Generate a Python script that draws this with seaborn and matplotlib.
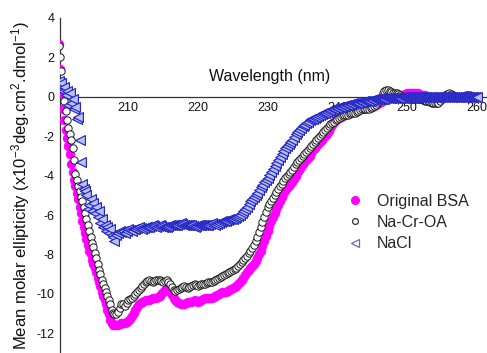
import numpy as np
import pandas as pd
import matplotlib
matplotlib.use("Agg")
import matplotlib.pyplot as plt
from matplotlib.lines import Line2D
import seaborn as sns

# ---- data ----
# wavelength sampling grid: 0.2 nm steps 200-208 nm, 0.25 nm steps 208.25-260 nm
wl_a = np.round(np.arange(200.0, 208.01, 0.2), 2)
wl_b = np.round(np.arange(208.25, 260.01, 0.25), 2)

bsa_a = [2.7, 1.4, 0.2, -0.6, -1.2, -1.7, -2.1, -2.5, -2.9, -3.4,
         -3.8, -4.2, -4.5, -4.9, -5.2, -5.6, -5.9, -6.3, -6.6, -6.9,
         -7.2, -7.5, -7.8, -8.0, -8.3, -8.5, -8.7, -8.9, -9.2, -9.4,
         -9.6, -9.9, -10.1, -10.3, -10.5, -10.8, -11.0, -11.3, -11.5, -11.6,
         -11.6]
bsa_b = [-11.6, -11.6, -11.55, -11.5, -11.5, -11.5, -11.45, -11.4,
         -11.25, -11.1, -10.95, -10.8, -10.65, -10.5, -10.45, -10.4,
         -10.35, -10.3, -10.3, -10.3, -10.25, -10.2, -10.2, -10.2,
         -10.15, -10.1, -10.0, -9.9, -9.8, -9.7, -9.75, -9.9,
         -10.05, -10.2, -10.3, -10.4, -10.45, -10.5, -10.5, -10.5,
         -10.45, -10.4, -10.4, -10.4, -10.35, -10.3, -10.35, -10.4,
         -10.35, -10.3, -10.25, -10.2, -10.2, -10.2, -10.2, -10.2,
         -10.15, -10.1, -10.05, -10.0, -9.95, -9.9, -9.9, -9.9,
         -9.85, -9.8, -9.75, -9.7, -9.65, -9.6, -9.5, -9.4,
         -9.3, -9.2, -9.05, -8.9, -8.8, -8.7, -8.6, -8.5,
         -8.35, -8.2, -8.0, -7.8, -7.55, -7.3, -7.05, -6.8,
         -6.55, -6.3, -6.1, -5.9, -5.7, -5.5, -5.3, -5.1,
         -4.95, -4.8, -4.65, -4.5, -4.4, -4.3, -4.15, -4.0,
         -3.85, -3.7, -3.55, -3.4, -3.3, -3.2, -3.1, -3.0,
         -2.85, -2.7, -2.6, -2.5, -2.4, -2.3, -2.2, -2.1,
         -2.0, -1.9, -1.75, -1.6, -1.45, -1.3, -1.2, -1.1,
         -1.05, -1.0, -0.95, -0.9, -0.85, -0.8, -0.75, -0.7,
         -0.7, -0.7, -0.65, -0.6, -0.6, -0.6, -0.55, -0.5,
         -0.5, -0.5, -0.5, -0.5, -0.45, -0.4, -0.35, -0.3,
         -0.25, -0.2, -0.15, -0.1, -0.05, 0.0, 0.0, 0.0,
         0.05, 0.1, 0.1, 0.1, 0.1, 0.1, 0.15, 0.2,
         0.2, 0.2, 0.2, 0.2, 0.2, 0.2, 0.15, 0.1,
         0.1, 0.1, 0.05, 0.0, 0.0, 0.0, 0.0, 0.0,
         0.0, 0.0, 0.0, 0.0, 0.0, 0.0, 0.05, 0.1,
         0.1, 0.1, 0.05, 0.0, 0.0, 0.0, 0.0, 0.0,
         0.0, 0.0, 0.0, 0.0, 0.0, 0.0, 0.0, 0.0]

ncoa_a = [2.6, 2.0, 1.3, 0.6, -0.2, -0.7, -1.2, -1.6, -1.9, -2.2,
          -2.6, -3.2, -3.9, -4.2, -4.5, -4.8, -5.1, -5.3, -5.6, -5.9,
          -6.2, -6.5, -6.8, -7.1, -7.4, -7.6, -7.9, -8.2, -8.5, -8.8,
          -9.0, -9.3, -9.5, -9.7, -9.9, -10.1, -10.3, -10.5, -10.8, -10.95,
          -11.0]
ncoa_b = [-11.0, -10.9, -10.7, -10.5, -10.5, -10.6, -10.45, -10.3,
          -10.25, -10.2, -10.1, -10.0, -9.9, -9.8, -9.7, -9.6,
          -9.5, -9.4, -9.35, -9.3, -9.35, -9.4, -9.35, -9.3,
          -9.3, -9.3, -9.35, -9.4, -9.35, -9.3, -9.4, -9.5,
          -9.65, -9.8, -9.85, -9.8, -9.75, -9.7, -9.65, -9.6,
          -9.65, -9.7, -9.65, -9.6, -9.55, -9.5, -9.55, -9.6,
          -9.55, -9.5, -9.5, -9.5, -9.45, -9.4, -9.4, -9.4,
          -9.35, -9.3, -9.25, -9.2, -9.15, -9.1, -9.05, -9.0,
          -8.95, -8.9, -8.85, -8.8, -8.75, -8.7, -8.6, -8.5,
          -8.4, -8.3, -8.2, -8.1, -7.95, -7.8, -7.65, -7.5,
          -7.3, -7.1, -6.85, -6.6, -6.35, -6.1, -5.85, -5.6,
          -5.45, -5.3, -5.15, -5.0, -4.85, -4.7, -4.55, -4.4,
          -4.25, -4.1, -4.0, -3.9, -3.8, -3.7, -3.55, -3.4,
          -3.3, -3.2, -3.1, -3.0, -2.9, -2.8, -2.7, -2.6,
          -2.5, -2.4, -2.3, -2.2, -2.1, -2.0, -1.9, -1.8,
          -1.7, -1.6, -1.5, -1.4, -1.35, -1.3, -1.2, -1.1,
          -1.05, -1.0, -0.95, -0.9, -0.9, -0.9, -0.85, -0.8,
          -0.8, -0.8, -0.75, -0.7, -0.65, -0.6, -0.6, -0.6,
          -0.6, -0.6, -0.55, -0.5, -0.45, -0.4, -0.3, -0.2,
          0.0, 0.2, 0.3, 0.35, 0.35, 0.3, 0.25, 0.2,
          0.2, 0.2, 0.15, 0.1, 0.05, 0.0, -0.05, -0.1,
          -0.1, -0.1, -0.1, -0.1, -0.1, -0.1, -0.1, -0.1,
          -0.15, -0.2, -0.2, -0.2, -0.25, -0.3, -0.3, -0.3,
          -0.3, -0.3, -0.2, -0.1, 0.0, 0.1, 0.15, 0.2,
          0.15, 0.1, 0.05, 0.0, 0.0, 0.0, 0.0, 0.0,
          0.05, 0.1, 0.1, 0.1, 0.05, 0.0, 0.0, 0.0]

nacl_a = [0.8, 0.6, 0.7, 0.3, 0.5, 0.1, 0.3, -0.4, 0.2, -0.3,
          -0.1, -0.6, -0.5, -1.1, -1.0, -2.2, -3.3, -4.4, -4.7, -4.8,
          -5.0, -5.7, -5.5, -5.2, -5.8, -5.4, -5.9, -5.6, -6.1, -5.8,
          -6.4, -6.2, -6.6, -6.5, -6.8, -6.6, -6.9, -6.7, -7.0, -7.1,
          -7.3]
nacl_b = [-7.0, -6.9, -6.8, -6.85, -6.8, -6.9, -6.8, -6.7,
          -6.75, -6.8, -6.7, -6.7, -6.65, -6.6, -6.65, -6.7,
          -6.65, -6.6, -6.6, -6.6, -6.55, -6.5, -6.55, -6.6,
          -6.55, -6.5, -6.55, -6.6, -6.6, -6.6, -6.55, -6.5,
          -6.5, -6.5, -6.5, -6.5, -6.45, -6.4, -6.45, -6.5,
          -6.5, -6.5, -6.5, -6.5, -6.55, -6.6, -6.55, -6.5,
          -6.5, -6.5, -6.5, -6.5, -6.5, -6.5, -6.45, -6.4,
          -6.45, -6.5, -6.45, -6.4, -6.35, -6.3, -6.3, -6.3,
          -6.25, -6.2, -6.2, -6.2, -6.15, -6.1, -6.05, -6.0,
          -5.9, -5.8, -5.7, -5.6, -5.45, -5.3, -5.2, -5.1,
          -5.0, -4.9, -4.75, -4.6, -4.45, -4.3, -4.2, -4.1,
          -3.95, -3.8, -3.65, -3.5, -3.35, -3.2, -3.05, -2.9,
          -2.75, -2.6, -2.5, -2.4, -2.3, -2.2, -2.05, -1.9,
          -1.8, -1.7, -1.6, -1.5, -1.45, -1.35, -1.3, -1.2,
          -1.15, -1.1, -1.05, -1.0, -0.95, -0.9, -0.85, -0.8,
          -0.8, -0.75, -0.7, -0.65, -0.6, -0.6, -0.55, -0.55,
          -0.5, -0.5, -0.45, -0.45, -0.4, -0.4, -0.35, -0.35,
          -0.3, -0.3, -0.3, -0.3, -0.25, -0.25, -0.2, -0.2,
          -0.2, -0.2, -0.15, -0.15, -0.1, -0.1, -0.1, -0.1,
          -0.1, -0.1, -0.1, -0.05, -0.05, -0.05, -0.05, -0.05,
          -0.05, -0.05, -0.05, -0.05, 0.0, 0.0, 0.0, 0.0,
          0.0, 0.0, 0.0, 0.0, 0.0, 0.0, 0.0, 0.0,
          0.0, 0.0, 0.0, 0.0, 0.0, 0.0, 0.0, 0.0,
          0.0, 0.0, 0.0, 0.0, 0.0, 0.0, 0.0, 0.0,
          0.0, 0.0, 0.0, 0.0, 0.0, 0.0, 0.0, 0.0,
          0.0, 0.0, 0.0, 0.0, 0.0, 0.0, 0.0, 0.0]

labels = ["Original BSA", "Na-Cr-OA", "NaCl"]
x_ticks = [210, 220, 230, 240, 250, 260]
y_ticks = [-12, -10, -8, -6, -4, -2, 0, 2, 4]

wl = np.concatenate([wl_a, wl_b])
df = pd.DataFrame({
    "wl": wl,
    "bsa": bsa_a + bsa_b,
    "ncoa": ncoa_a + ncoa_b,
    "nacl": nacl_a + nacl_b,
})

# ---- style ----
sns.set_style("white")
plt.rcParams["font.family"] = ["Liberation Sans", "DejaVu Sans"]
plt.rcParams["mathtext.fontset"] = "custom"
plt.rcParams["mathtext.rm"] = "Liberation Sans"
plt.rcParams["mathtext.it"] = "Liberation Sans:italic"
plt.rcParams["mathtext.bf"] = "Liberation Sans:bold"
plt.rcParams["axes.unicode_minus"] = False

W, H = 487, 353
fig = plt.figure(figsize=(W / 100, H / 100), dpi=100)
ax = fig.add_axes([60 / W, 0.0, (W - 60) / W, 335 / H])

c_bsa = "#ff00ff"
c_ncoa = "#1a1a1a"
c_nacl = "#2626c8"

sns.scatterplot(data=df, x="wl", y="bsa", ax=ax, color=c_bsa, edgecolor=c_bsa,
                s=42, linewidth=0.3, marker="o", legend=False, zorder=3)
sns.scatterplot(data=df, x="wl", y="ncoa", ax=ax, color="white", edgecolor=c_ncoa,
                s=28, linewidth=0.7, marker="o", legend=False, zorder=4)
sns.scatterplot(data=df, x="wl", y="nacl", ax=ax, color="#b8c2f2", edgecolor=c_nacl,
                s=50, linewidth=0.85, marker="<", legend=False, zorder=5)

ax.set_xlim(200.2, 200.2 + 427 / 6.97)
ax.set_ylim(-13.0, 4)
ax.set_xticks(x_ticks)
ax.set_yticks(y_ticks)
ax.set_xticklabels([str(t) for t in x_ticks])
ax.set_yticklabels([str(t) for t in y_ticks])

for s in ["top", "right"]:
    ax.spines[s].set_visible(False)
ax.spines["bottom"].set_position(("data", 0))
for s in ["left", "bottom"]:
    ax.spines[s].set_color("#333333")
    ax.spines[s].set_linewidth(0.9)
    ax.spines[s].set_zorder(2)
ax.tick_params(axis="both", direction="in", length=3, width=0.9, color="#333333",
               labelsize=9, labelcolor="#111111", pad=4)

ax.set_xlabel("")
ax.set_ylabel("Mean molar ellipticity (x10$^{-3}$deg.cm$^{2}$.dmol$^{-1}$)",
              fontsize=12, color="#111111", labelpad=3)
fig.text(270 / W, 1 - 77 / H, "Wavelength (nm)", ha="center", va="center",
         fontsize=11.5, color="#111111")

handles = [
    Line2D([], [], linestyle="none", marker="o", markersize=5.5,
           markerfacecolor=c_bsa, markeredgecolor=c_bsa),
    Line2D([], [], linestyle="none", marker="o", markersize=4.2,
           markerfacecolor="white", markeredgecolor="#333333", markeredgewidth=0.9),
    Line2D([], [], linestyle="none", marker="<", markersize=5.5,
           markerfacecolor="white", markeredgecolor="#6a6aaa", markeredgewidth=0.9),
]
ax.legend(handles, labels, loc="upper left", bbox_to_anchor=(347 / W, 1 - 194 / H),
          bbox_transform=fig.transFigure, frameon=False, fontsize=11.5,
          handlelength=1.0, handletextpad=0.85, labelspacing=0.38, borderpad=0,
          borderaxespad=0)

fig.savefig("out.png", dpi=100)
